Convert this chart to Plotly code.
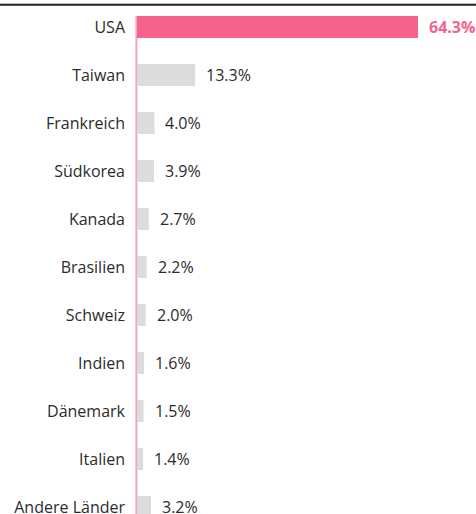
import plotly.graph_objects as go

countries = ["USA", "Taiwan", "Frankreich", "Südkorea", "Kanada", "Brasilien",
             "Schweiz", "Indien", "Dänemark", "Italien", "Andere Länder"]
shares = [64.3, 13.3, 4.0, 3.9, 2.7, 2.2, 2.0, 1.6, 1.5, 1.4, 3.2]
labels = ["64.3%", "13.3%", "4.0%", "3.9%", "2.7%", "2.2%", "2.0%", "1.6%", "1.5%", "1.4%", "3.2%"]

PINK = "#f5628c"
GRAY = "#dcdcdc"
colors = [PINK] + [GRAY] * (len(countries) - 1)

W, H = 476, 514
ML = 137
FS = 16
plot_w = W - ML
px_per_unit = 281 / 64.3
xmax = plot_w / px_per_unit

step = 48.0
top_val = -27 / step
bot_val = top_val + H / step

fig = go.Figure(go.Bar(
    x=shares, y=countries, orientation="h",
    marker=dict(color=colors, line=dict(width=0)),
    width=22 / step,
    hoverinfo="skip",
))

for i, (c, v, t) in enumerate(zip(countries, shares, labels)):
    fig.add_annotation(
        x=v, y=c, text=f"<b>{t}</b>" if i == 0 else t,
        xanchor="left", yanchor="middle", xshift=9, showarrow=False,
        font=dict(family="Open Sans", size=FS, color=PINK if i == 0 else "#2b2b2b"),
    )

# top rule
fig.add_shape(type="line", xref="paper", yref="paper",
              x0=-ML / plot_w, x1=1, y0=1 - 4.8 / H, y1=1 - 4.8 / H,
              line=dict(color="#222222", width=2))
# pink baseline starting at top of first bar
fig.add_shape(type="line", xref="paper", yref="paper",
              x0=-0.6 / plot_w, x1=-0.6 / plot_w, y0=0, y1=1 - 16 / H,
              line=dict(color="#f5a3bf", width=2), layer="below")

fig.update_layout(
    width=W, height=H,
    margin=dict(l=ML, r=0, t=0, b=0, autoexpand=False),
    paper_bgcolor="white", plot_bgcolor="white",
    showlegend=False,
    font=dict(family="Open Sans", size=FS, color="#2b2b2b"),
    xaxis=dict(range=[0, xmax], visible=False, fixedrange=True),
    yaxis=dict(
        categoryorder="array", categoryarray=countries,
        range=[bot_val, top_val], fixedrange=True,
        showline=False,
        showgrid=False, zeroline=False,
        ticks="", ticklabelstandoff=11,
        tickfont=dict(family="Open Sans", size=FS, color="#2b2b2b"),
    ),
)

fig.write_html("out.html", config={"displayModeBar": False},
               post_script="document.body.style.margin='0';document.body.style.padding='0';")
